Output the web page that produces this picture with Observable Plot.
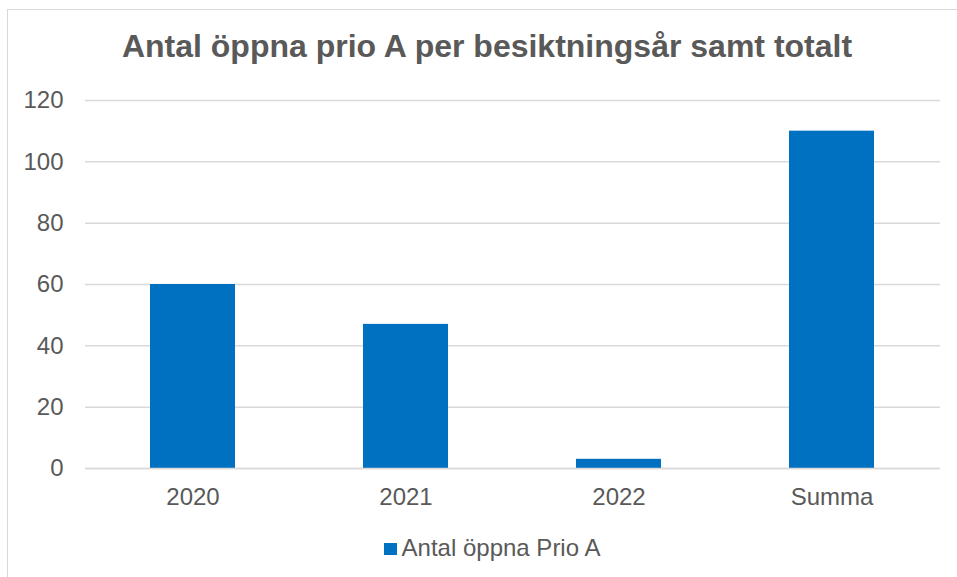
<!DOCTYPE html>
<html>
<head>
<meta charset="utf-8">
<script src="https://cdn.jsdelivr.net/npm/d3@7"></script>
<script src="https://cdn.jsdelivr.net/npm/@observablehq/plot@0.6"></script>
<style>
  html, body { margin: 0; padding: 0; background: #fff; }
  #wrap { position: relative; width: 957px; height: 577px; overflow: hidden; font-family: "Liberation Sans", Arial, sans-serif; }
  #frame { position: absolute; left: 7px; top: 9px; width: 980px; height: 600px; border: 1.5px solid #d9d9d9; box-sizing: border-box; }
  #title { position: absolute; left: 7px; width: 960px; top: 28px; text-align: center; font-weight: bold; font-size: 32px; line-height: 1.149; color: #595959; white-space: nowrap; }
  #chart { position: absolute; left: 0; top: 80px; }
  #legend { position: absolute; left: 12px; width: 960px; top: 534px; text-align: center; font-size: 24px; line-height: 1.149; color: #595959; white-space: nowrap; }
  #legend .sw { display: inline-block; width: 13px; height: 12px; background: #0070c0; margin-right: 5px; vertical-align: 1px; }
</style>
</head>
<body>
<div id="wrap">
  <div id="frame"></div>
  <div id="title">Antal öppna prio A per besiktningsår samt totalt</div>
  <div id="chart"></div>
  <div id="legend"><span class="sw"></span>Antal öppna Prio A</div>
</div>
<script>
const categories = ["2020", "2021", "2022", "Summa"];
const values = [60, 47, 3, 110];
const yTicks = [0, 20, 40, 60, 80, 100, 120];
const seriesName = "Antal öppna Prio A";

const data = categories.map((c, i) => ({category: c, value: values[i], series: seriesName}));

const chart = Plot.plot({
  width: 957,
  height: 460,
  marginTop: 20,
  marginBottom: 72,
  marginLeft: 85,
  marginRight: 17,
  style: {fontFamily: "Liberation Sans, Arial, sans-serif", fontSize: "24px", color: "#595959", background: "transparent"},
  x: {domain: categories, paddingInner: 0.6, paddingOuter: 0.3, label: null},
  y: {domain: [0, 120], label: null},
  marks: [
    Plot.ruleY(yTicks, {stroke: "#d9d9d9", strokeWidth: 1.5}),
    Plot.barY(data, {x: "category", y: "value", fill: "#0070c0"}),
    Plot.ruleY([0], {stroke: "#d9d9d9", strokeWidth: 1.5}),
    Plot.axisY(yTicks, {tickSize: 0, tickPadding: 22, label: null, fill: "#595959", fontSize: 24}),
    Plot.axisX({tickSize: 0, tickPadding: 19, label: null, fill: "#595959", fontSize: 24})
  ]
});
document.getElementById("chart").appendChild(chart);
</script>
</body>
</html>
